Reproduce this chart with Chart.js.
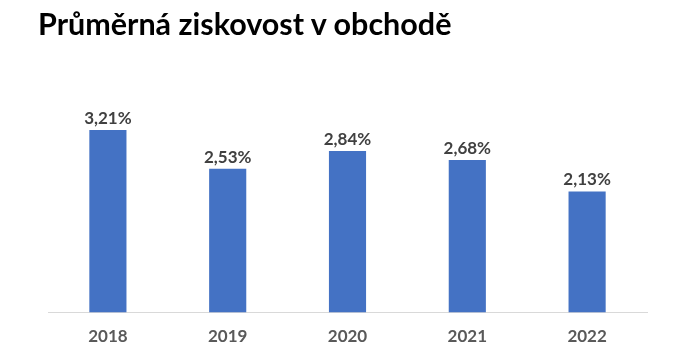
<!DOCTYPE html>
<html>
<head>
<meta charset="utf-8">
<script src="https://cdn.jsdelivr.net/npm/chart.js@4"></script>
<style>
  html, body { margin: 0; padding: 0; background: #fff; }
  #wrap { position: relative; width: 680px; height: 361px; }
  #title {
    position: absolute; left: 38px; top: 5px;
    font: bold 30.5px Lato, sans-serif; color: #000;
    white-space: nowrap;
  }
</style>
</head>
<body>
<div id="wrap">
  <canvas id="chart" width="680" height="361"></canvas>
  <div id="title">Průměrná ziskovost v obchodě</div>
</div>
<script>
// data
const YEARS = ["2018", "2019", "2020", "2021", "2022"];
const PROFIT = [3.21, 2.53, 2.84, 2.68, 2.13];

// popisky nad sloupci (3,21%)
const barLabels = {
  id: "barLabels",
  afterDatasetsDraw(chart) {
    const ctx = chart.ctx;
    const meta = chart.getDatasetMeta(0);
    ctx.save();
    ctx.font = "bold 17px Lato, sans-serif";
    ctx.fillStyle = "#404040";
    ctx.textAlign = "center";
    ctx.textBaseline = "bottom";
    meta.data.forEach((bar, i) => {
      const txt = PROFIT[i].toFixed(2).replace(".", ",") + "%";
      ctx.fillText(txt, bar.x, bar.y - 3);
    });
    ctx.restore();
  }
};

const ctx = document.getElementById("chart").getContext("2d");
new Chart(ctx, {
  type: "bar",
  data: {
    labels: YEARS,
    datasets: [{
      data: PROFIT,
      backgroundColor: "#4472C4",
      categoryPercentage: 1,
      barPercentage: 0.31
    }]
  },
  options: {
    responsive: false,
    animation: false,
    layout: { padding: { left: 48, right: 33, top: 85, bottom: 8 } },
    plugins: { legend: { display: false }, tooltip: { enabled: false } },
    scales: {
      x: {
        grid: { display: false },
        border: { color: "#d9d9d9", width: 1 },
        ticks: { color: "#595959", font: { family: "Lato", size: 17, weight: "bold" }, padding: 6 }
      },
      y: {
        display: false,
        min: 0,
        max: 4
      }
    }
  },
  plugins: [barLabels]
});
</script>
</body>
</html>
